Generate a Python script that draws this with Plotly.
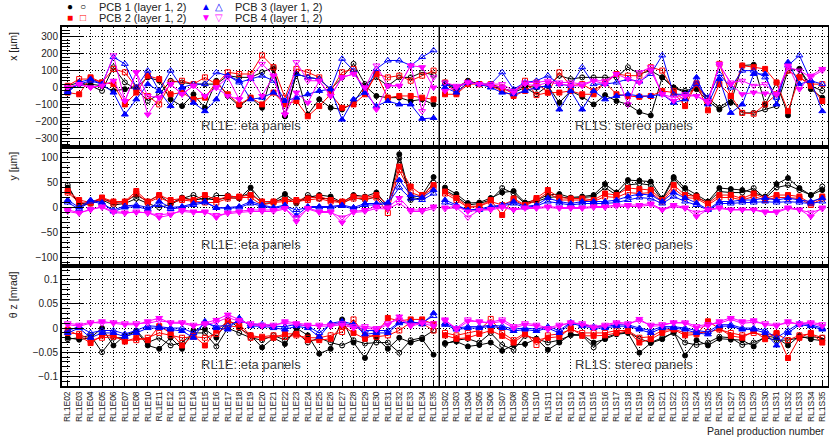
import plotly.graph_objects as go

E_panels = ["RL1E02", "RL1E03", "RL1E04", "RL1E05", "RL1E06", "RL1E07", "RL1E08",
            "RL1E10", "RL1E11", "RL1E12", "RL1E13", "RL1E14", "RL1E15", "RL1E16",
            "RL1E17", "RL1E18", "RL1E19", "RL1E20", "RL1E21", "RL1E22", "RL1E23",
            "RL1E24", "RL1E25", "RL1E26", "RL1E27", "RL1E28", "RL1E29", "RL1E30",
            "RL1E31", "RL1E32", "RL1E33", "RL1E34", "RL1E35"]
S_panels = ["RL1S%02d" % k for k in range(2, 36)]
categories = E_panels + S_panels

# ---------------- x [um] ----------------
dx_E_p1_l1 = [-10, 20, 20, 10, -20, -10, 0, 60, 40, -70, -110, -40, -120, 40, -50, -110, -60, -120, 110, -170, 80, -160, -70, -120, -130, -90, 10, -50, -60, -60, -80, -70, -100]
dx_E_p1_l2 = [10, 30, 10, -20, 120, 30, -10, -80, -40, 40, 30, 20, 20, 20, 70, 60, 60, 90, 120, -170, 80, 60, 50, -10, 60, 140, 20, 60, 10, 60, 60, 90, 75]
dx_E_p2_l1 = [-30, -40, 60, 30, 20, -100, -30, 70, 50, -40, -30, -70, -60, 30, -40, -100, -60, -100, -30, -100, -80, -170, -110, -40, -120, -100, -40, 80, -60, -50, -50, -60, -70]
dx_E_p2_l2 = [10, 50, 50, 30, 110, 90, 0, -50, -100, 30, 40, 20, 60, 20, 90, 80, 80, 190, 120, -60, 110, 90, 60, -20, 90, 110, -30, 80, 60, 70, 40, 70, 100]
dx_E_p3_l1 = [-30, 30, 50, 20, -30, -160, -70, 20, -20, -110, 0, -90, -140, -70, 70, 40, -70, -60, -30, -80, -60, -40, -20, -10, -190, -70, -30, -110, -80, -100, -100, -185, -180]
dx_E_p3_l2 = [-20, 20, 40, 20, 180, 140, 0, 100, -20, 100, 0, 20, 20, 90, 70, 30, 50, 70, 40, -80, 80, 60, 50, -10, 170, 100, -30, 110, 160, 160, 130, 180, 220]
dx_E_p4_l1 = [0, 20, 0, 10, 40, -80, 90, -160, -60, 20, -40, 10, -50, 0, -50, -70, 60, -50, 70, -160, -30, -90, 40, -50, 60, 80, 0, -130, 10, 10, 130, 120, 0]
dx_E_p4_l2 = [0, 20, 0, 10, 190, -80, 90, -50, -60, 20, -40, 10, -50, 0, 60, -70, 60, 140, 70, -160, 150, 40, 40, -50, 60, 80, 0, 130, 10, 10, 130, -140, 60]

dx_S_p1_l1 = [20, -10, 40, 20, 10, -10, -20, 10, 0, 10, -90, -20, -55, -100, -45, -80, -100, -145, -165, 60, 0, -30, -10, -80, -130, -90, 130, 135, -100, 30, -165, 110, -10, -60]
dx_S_p1_l2 = [30, 0, 40, 20, 10, 0, -30, 0, -40, 10, 70, 50, 60, 60, 60, 60, 120, 80, 100, 60, 0, -20, 0, -60, -120, -70, -150, -150, -130, -110, 100, 110, 10, -20]
dx_S_p2_l1 = [-40, -40, 20, 20, 10, -20, -50, -20, 30, -30, -30, -20, -40, -40, 30, -40, -50, -55, -50, -20, -30, -110, 25, -135, 20, -50, 130, 120, 110, 30, -140, 60, 10, -80]
dx_S_p2_l2 = [30, -30, 30, 20, 20, 0, -40, 40, -45, -30, 90, 10, 20, -20, 30, 80, 70, 70, 120, 100, -20, -80, 20, -80, 140, -50, -150, -155, -100, -40, 100, 60, 20, 20]
dx_S_p3_l1 = [0, -30, 30, 20, 0, -30, -40, -20, 0, 10, -130, -20, -130, -20, -70, -50, -40, -50, -50, -40, -90, -70, 60, -100, 50, -150, -100, 80, 80, -100, 150, 20, 40, -140]
dx_S_p3_l2 = [20, 0, 30, 20, 20, 90, -10, 30, 40, 70, 20, 10, 120, 20, 20, 30, 50, 35, 80, 190, -40, -40, 20, -60, 80, 0, 100, 100, 60, -60, 130, 190, 40, 20]
dx_S_p4_l1 = [-20, 0, 30, 20, 10, 0, -30, 20, 10, 30, 20, 10, 10, 40, 20, 80, 50, 30, 100, -40, -80, -50, -50, -90, 140, 20, -40, -30, -35, -40, 130, -10, 70, 110]
dx_S_p4_l2 = [30, 10, 30, 20, 20, 20, -20, 30, 30, 40, 30, 30, 20, 40, 40, 80, -100, 90, 120, -40, -60, -40, -50, -80, 130, 30, 40, 10, 20, -40, 120, 100, 60, 100]

# ---------------- y [um] ----------------
dy_E_p1_l1 = [40, 7, 10, 18, 10, 12, 25, 12, 25, 8, 20, 15, 18, 15, 20, 18, 40, 12, 12, 27, 10, 20, 25, 22, 10, 25, 22, 30, 2, 107, 19, 25, 61]
dy_E_p1_l2 = [45, 3, 8, 15, 5, 8, 18, 8, 0, 6, 18, 25, 14, 24, 24, 20, 30, 8, 10, 20, 8, 25, 18, 18, 8, 20, 15, 22, 0, 99, 15, 20, 50]
dy_E_p2_l1 = [33, 15, 10, 20, 12, 12, 33, 12, 25, 15, 18, 15, 25, 15, 22, 22, 25, 12, 12, 15, 15, 18, 22, 15, 12, 22, 20, 25, 5, 82, 42, 25, 45]
dy_E_p2_l2 = [30, 10, 8, 18, 8, 10, 28, 10, 20, 10, 15, 12, 10, 10, 18, 20, 20, 5, 10, 12, 12, 15, 18, 12, 10, 18, 18, 20, -11, 75, 30, 22, 40]
dy_E_p3_l1 = [15, 0, 15, 10, -8, 0, 2, -4, 12, 0, 2, 8, 12, -1, 0, 2, 12, 5, 0, 5, -16, 2, 2, 2, 5, 0, 8, 8, 10, 55, 25, 20, 35]
dy_E_p3_l2 = [10, -3, 12, 8, -5, 3, 5, 0, 5, -3, 0, 5, 10, 0, -2, 0, 8, 3, -2, 3, -5, 0, 0, 0, 3, -3, 5, 5, 8, 40, 18, 15, 28]
dy_E_p4_l1 = [-5, -10, -5, 2, -8, -10, -10, -10, -20, -15, -5, -8, -8, -20, -10, -8, -5, -5, -5, -1, -28, -1, -8, -8, -30, -8, -5, 2, 0, 19, -5, -5, 2]
dy_E_p4_l2 = [-8, -12, -3, 0, -10, -12, -8, -12, -15, -12, -8, -10, -10, -15, -12, -10, -8, -8, -8, -3, -20, -3, -10, -10, -20, -10, -8, -2, -3, 9, -8, -8, -2]

dy_S_p1_l1 = [40, 27, 9, 10, 19, 30, 33, 10, 15, 25, 27, 20, 22, 25, 47, 30, 55, 54, 52, 18, 61, 39, 25, 12, 39, 37, 35, 30, 22, 47, 59, 39, 25, 35]
dy_S_p1_l2 = [35, 22, 5, 8, 15, 39, 28, 8, 12, 20, 22, 18, 20, 22, 40, 25, 45, 48, 45, 15, 58, 32, 20, 10, 32, 30, 30, 39, 18, 40, 45, 35, 25, 42]
dy_S_p2_l1 = [32, 19, 2, 3, 15, -15, 18, 5, 19, 35, 20, 18, 18, 15, 28, 25, 39, 37, 35, 15, 45, 25, 22, 8, 25, 25, 18, 28, 18, 25, 25, 22, 8, 22]
dy_S_p2_l2 = [28, 15, 0, 2, 12, 5, 15, 3, 15, 30, 15, 15, 15, 12, 22, 20, 30, 28, 30, 12, 38, 20, 18, 5, 20, 20, 15, 22, 15, 20, 20, 18, 5, 18]
dy_S_p3_l1 = [15, 5, -5, -3, 2, 5, 12, 2, 5, 19, 12, 8, 12, 12, 12, 15, 22, 27, 25, 12, 30, 19, 9, -4, 12, 12, 15, 15, 19, 15, 19, 15, 12, 19]
dy_S_p3_l2 = [10, 2, -5, -5, 0, 3, 8, 0, 3, 12, 8, 5, 8, 8, 8, 10, 15, 20, 18, 8, 22, 12, 5, -5, 8, 8, 10, 10, 12, 10, 12, 10, 8, 12]
dy_S_p4_l1 = [0, 2, -8, -5, -3, 2, -4, 0, 0, 2, 0, 0, 0, 2, 2, 5, 5, 5, 8, -4, 5, 0, -18, -4, 0, -4, -4, -4, -8, -8, 0, -4, -18, 0]
dy_S_p4_l2 = [-3, 0, -20, -5, -5, 0, -5, -2, -2, 0, -2, -2, -2, 0, 0, 2, 2, 2, 5, -5, 2, -2, -10, -5, -2, -5, -5, -5, -10, -10, -2, -5, -10, -3]

# ---------------- theta z [mrad] ----------------
tz_E_p1_l1 = [-0.02, -0.024, -0.02, 0.0, -0.036, -0.015, -0.006, -0.036, -0.043, -0.02, -0.043, -0.005, -0.002, -0.02, 0.018, 0.0, -0.015, -0.04, -0.02, -0.033, 0.0, -0.015, -0.053, -0.043, 0.018, -0.03, -0.062, -0.02, -0.043, -0.02, -0.03, -0.023, -0.055]
tz_E_p1_l2 = [-0.023, -0.02, -0.015, -0.05, -0.02, -0.02, -0.005, -0.03, -0.02, -0.036, -0.03, -0.01, -0.01, -0.038, 0.0, -0.01, -0.02, -0.025, -0.015, -0.025, -0.008, -0.03, -0.02, -0.03, -0.036, -0.025, -0.032, -0.03, -0.03, -0.051, -0.025, -0.02, -0.005]
tz_E_p2_l1 = [-0.003, -0.016, -0.031, -0.015, -0.015, -0.028, -0.02, -0.025, 0.004, -0.01, -0.036, -0.015, -0.036, -0.005, 0.014, 0.008, -0.015, -0.02, -0.02, -0.012, -0.012, -0.025, -0.025, -0.022, 0.005, -0.01, -0.022, -0.012, 0.021, 0.015, 0.018, 0.018, 0.008]
tz_E_p2_l2 = [-0.01, -0.012, -0.025, -0.02, -0.018, -0.025, -0.025, -0.02, -0.01, -0.015, -0.02, -0.018, -0.02, -0.012, 0.005, 0.002, -0.02, -0.018, -0.015, -0.018, -0.015, -0.02, -0.02, -0.015, -0.008, 0.018, -0.015, -0.018, -0.015, -0.005, 0.012, 0.01, -0.005]
tz_E_p3_l1 = [-0.01, 0.0, -0.02, -0.01, -0.01, -0.018, -0.01, 0.0, 0.0, -0.003, -0.006, -0.02, 0.014, 0.0, -0.003, 0.021, 0.004, 0.004, 0.0, -0.003, 0.004, 0.0, -0.018, 0.01, 0.014, 0.008, -0.013, -0.01, -0.01, 0.01, 0.014, 0.008, 0.031]
tz_E_p3_l2 = [-0.005, 0.003, -0.01, -0.005, -0.005, -0.012, -0.005, 0.005, 0.003, 0.0, 0.0, -0.01, 0.01, 0.004, 0.005, 0.015, 0.008, 0.008, 0.004, 0.003, 0.008, 0.004, -0.01, 0.008, 0.01, 0.006, -0.005, -0.005, -0.005, 0.012, 0.01, 0.012, 0.025]
tz_E_p4_l1 = [0.007, 0.004, 0.01, 0.014, 0.01, 0.007, 0.007, 0.014, 0.021, 0.01, 0.01, 0.004, 0.01, 0.017, 0.028, 0.017, 0.007, 0.004, 0.004, 0.014, 0.01, 0.007, 0.004, 0.004, 0.007, 0.0, 0.0, -0.003, 0.007, 0.024, 0.004, 0.01, 0.004]
tz_E_p4_l2 = [0.01, 0.007, 0.012, 0.01, 0.012, 0.01, 0.01, 0.01, 0.015, 0.012, 0.012, 0.007, 0.007, 0.012, 0.022, 0.014, 0.01, 0.007, 0.007, 0.01, 0.007, 0.004, 0.007, 0.007, 0.01, 0.004, 0.004, 0.0, 0.01, 0.018, 0.007, 0.012, 0.01]

tz_S_p1_l1 = [-0.031, -0.028, -0.038, -0.035, -0.03, -0.047, -0.035, -0.033, -0.022, -0.045, -0.03, -0.013, -0.014, -0.03, -0.023, -0.013, -0.01, -0.051, -0.031, -0.023, -0.008, -0.057, -0.025, -0.036, -0.022, -0.024, -0.025, -0.038, -0.016, -0.02, -0.036, -0.016, -0.023, -0.026]
tz_S_p1_l2 = [-0.033, -0.025, -0.022, -0.03, -0.01, -0.035, -0.045, -0.016, -0.022, -0.03, -0.025, -0.015, -0.015, -0.04, -0.02, -0.012, -0.008, -0.022, -0.03, -0.02, -0.01, -0.03, -0.035, -0.03, -0.018, -0.02, -0.035, -0.03, -0.02, -0.025, -0.025, -0.02, -0.018, -0.02]
tz_S_p2_l1 = [-0.015, -0.022, -0.02, -0.012, -0.005, -0.016, -0.03, -0.013, -0.025, -0.02, -0.018, 0.0, -0.016, -0.016, -0.015, -0.01, -0.006, -0.03, -0.023, -0.01, -0.003, -0.015, -0.013, 0.014, -0.001, -0.016, -0.02, -0.006, -0.023, -0.01, -0.062, -0.02, -0.01, -0.03]
tz_S_p2_l2 = [-0.01, -0.015, -0.01, -0.005, 0.019, -0.01, -0.025, -0.01, -0.035, -0.015, -0.012, -0.003, -0.01, -0.01, -0.01, -0.005, -0.005, -0.02, -0.018, -0.005, -0.002, -0.01, -0.01, -0.008, -0.003, -0.01, -0.015, -0.01, -0.015, -0.012, -0.025, -0.015, -0.012, -0.02]
tz_S_p3_l1 = [0.007, -0.003, 0.0, 0.0, 0.004, 0.0, -0.006, -0.003, -0.006, 0.0, -0.01, 0.01, 0.004, 0.0, 0.0, 0.004, 0.004, -0.003, -0.01, 0.0, 0.0, -0.003, -0.01, -0.013, 0.004, 0.004, -0.003, -0.003, -0.01, -0.036, -0.01, 0.007, 0.004, -0.003]
tz_S_p3_l2 = [0.01, 0.0, 0.003, 0.003, 0.006, 0.004, -0.002, 0.0, -0.002, 0.003, -0.005, 0.012, 0.007, 0.003, 0.003, 0.007, 0.007, 0.0, -0.005, 0.003, 0.003, 0.0, -0.005, -0.008, 0.007, 0.007, 0.0, 0.0, -0.005, -0.02, -0.005, 0.01, 0.007, 0.0]
tz_S_p4_l1 = [0.018, -0.003, 0.014, 0.014, 0.01, 0.014, 0.0, 0.007, 0.004, -0.003, 0.004, 0.012, 0.007, 0.0, 0.004, 0.01, 0.007, 0.019, 0.004, 0.005, 0.012, 0.01, 0.0, 0.005, 0.014, 0.021, 0.014, 0.016, 0.007, 0.004, 0.014, 0.007, 0.01, 0.004]
tz_S_p4_l2 = [0.015, 0.0, 0.018, 0.012, 0.012, 0.018, 0.004, 0.01, 0.007, 0.0, 0.007, 0.01, 0.01, 0.003, 0.007, 0.012, 0.01, 0.015, 0.007, 0.008, 0.01, 0.012, 0.004, 0.008, 0.01, 0.018, 0.01, 0.012, 0.01, 0.007, 0.01, 0.01, 0.012, 0.008]

pcb_colors = ["#000000", "#ff0000", "#0000ff", "#ff00ff"]
sym_filled = ["circle", "square", "triangle-up", "triangle-down"]
sym_open = ["circle-open", "square-open", "triangle-up-open", "triangle-down-open"]

panels = [
    ("x", "y", {"E": [dx_E_p1_l1, dx_E_p1_l2, dx_E_p2_l1, dx_E_p2_l2, dx_E_p3_l1, dx_E_p3_l2, dx_E_p4_l1, dx_E_p4_l2],
                "S": [dx_S_p1_l1, dx_S_p1_l2, dx_S_p2_l1, dx_S_p2_l2, dx_S_p3_l1, dx_S_p3_l2, dx_S_p4_l1, dx_S_p4_l2]}),
    ("x2", "y2", {"E": [dy_E_p1_l1, dy_E_p1_l2, dy_E_p2_l1, dy_E_p2_l2, dy_E_p3_l1, dy_E_p3_l2, dy_E_p4_l1, dy_E_p4_l2],
                  "S": [dy_S_p1_l1, dy_S_p1_l2, dy_S_p2_l1, dy_S_p2_l2, dy_S_p3_l1, dy_S_p3_l2, dy_S_p4_l1, dy_S_p4_l2]}),
    ("x3", "y3", {"E": [tz_E_p1_l1, tz_E_p1_l2, tz_E_p2_l1, tz_E_p2_l2, tz_E_p3_l1, tz_E_p3_l2, tz_E_p4_l1, tz_E_p4_l2],
                  "S": [tz_S_p1_l1, tz_S_p1_l2, tz_S_p2_l1, tz_S_p2_l2, tz_S_p3_l1, tz_S_p3_l2, tz_S_p4_l1, tz_S_p4_l2]}),
]

fig = go.Figure()
for xa, ya, groups in panels:
    for grp, cats in (("E", E_panels), ("S", S_panels)):
        series = groups[grp]
        for k, vals in enumerate(series):
            pcb = k // 2
            layer = k % 2
            col = pcb_colors[pcb]
            sym = sym_filled[pcb] if layer == 0 else sym_open[pcb]
            size = 5 if pcb in (0, 1) else 6
            fig.add_trace(go.Scatter(
                x=cats, y=vals, xaxis=xa, yaxis=ya, mode="lines+markers",
                line=dict(color=col, width=1),
                marker=dict(symbol=sym, size=size, color=col, line=dict(color=col, width=1)),
                showlegend=False, hoverinfo="skip"))

FONT = "Liberation Sans, Arial, Helvetica, sans-serif"
TXT = "#222222"
grid = dict(showgrid=True, gridcolor="#000000", gridwidth=1, griddash="1px,2px")
frame = dict(showline=True, linecolor="#000000", linewidth=2, mirror=True)

domains = [[2 / 3, 1.0], [1 / 3, 2 / 3], [0.0, 1 / 3]]
yranges = [[-350, 358], [-118, 122], [-0.12, 0.128]]
ydticks = [100, 50, 0.05]
yminor = [20, 10, 0.01]

W, H, L, R, T, B = 829, 437, 62, 1, 27, 51
layout = dict(
    width=W, height=H, margin=dict(l=L, r=R, t=T, b=B, autoexpand=False),
    paper_bgcolor="white", plot_bgcolor="white",
    font=dict(family=FONT, size=11, color=TXT),
    showlegend=False,
)
for i in range(3):
    xn = "xaxis" if i == 0 else "xaxis%d" % (i + 1)
    yn = "yaxis" if i == 0 else "yaxis%d" % (i + 1)
    yid = "y" if i == 0 else "y%d" % (i + 1)
    xid = "x" if i == 0 else "x%d" % (i + 1)
    layout[xn] = dict(domain=[0, 1], anchor=yid, type="category",
                      categoryorder="array", categoryarray=categories,
                      range=[-0.5, len(categories) - 0.5],
                      tickmode="array", tickvals=categories, ticktext=categories,
                      ticks="inside", ticklen=5, tickcolor="#000000",
                      showticklabels=(i == 2), tickangle=-90, automargin=False,
                      tickfont=dict(size=8.5, color=TXT),
                      zeroline=False, **grid, **frame)
    layout[yn] = dict(domain=domains[i], anchor=xid, range=yranges[i], automargin=False,
                      tick0=0, dtick=ydticks[i], ticks="inside", ticklen=22,
                      tickcolor="#000000", tickfont=dict(size=10, color=TXT),
                      minor=dict(dtick=yminor[i], ticks="inside", ticklen=8,
                                 tickcolor="#000000", showgrid=False),
                      zeroline=False, **grid, **frame)
fig.update_layout(**layout)

# separator between eta and stereo panels
for i in range(3):
    xid = "x" if i == 0 else "x%d" % (i + 1)
    yid = "y" if i == 0 else "y%d" % (i + 1)
    fig.add_shape(type="line", xref=xid, yref=yid + " domain",
                  x0=len(E_panels) - 0.5, x1=len(E_panels) - 0.5, y0=0, y1=1,
                  line=dict(color="#000000", width=1.5))
    fig.add_annotation(text="RL1E: eta panels", xref=xid, yref=yid + " domain",
                       x=(len(E_panels) - 1) / 2, y=0.1, showarrow=False,
                       font=dict(size=13, color="#444444"))
    fig.add_annotation(text="RL1S: stereo panels", xref=xid, yref=yid + " domain",
                       x=len(E_panels) + (len(S_panels) - 1) / 2, y=0.1, showarrow=False,
                       font=dict(size=13, color="#444444"))

ytitles = ["x [µm]", "y [µm]", "θ z [mrad]"]
for i, t in enumerate(ytitles):
    yid = "y" if i == 0 else "y%d" % (i + 1)
    fig.add_annotation(text=t, xref="paper", yref=yid + " domain", x=-0.064, y=0.98,
                       xanchor="center", yanchor="top", textangle=-90, showarrow=False,
                       font=dict(size=10.5, color=TXT))

ph = H - T - B
pw = W - L - R
def px(xp):
    return (xp - L) / pw
def py(yp):
    return (H - B - yp) / ph

fig.add_annotation(text="Panel production number", xref="paper", yref="paper",
                   x=px(827), y=py(431), xanchor="right", yanchor="middle", showarrow=False,
                   font=dict(size=10.5, color=TXT))

# legend (text symbols)
leg = [
    ("●", "○", "#000000", "PCB 1 (layer 1, 2)", 70, 7),
    ("■", "□", "#ff0000", "PCB 2 (layer 1, 2)", 70, 18),
    ("▲", "△", "#0000ff", "PCB 3 (layer 1, 2)", 206, 7),
    ("▼", "▽", "#ff00ff", "PCB 4 (layer 1, 2)", 206, 18),
]
for s1, s2, col, lab, x0, y0 in leg:
    fig.add_annotation(text=s1, xref="paper", yref="paper", x=px(x0), y=py(y0),
                       xanchor="center", yanchor="middle", showarrow=False,
                       font=dict(size=10, color=col))
    fig.add_annotation(text=s2, xref="paper", yref="paper", x=px(x0 + 13), y=py(y0),
                       xanchor="center", yanchor="middle", showarrow=False,
                       font=dict(size=10, color=col))
    fig.add_annotation(text=lab, xref="paper", yref="paper", x=px(x0 + 27), y=py(y0),
                       xanchor="left", yanchor="middle", showarrow=False,
                       font=dict(size=11, color=TXT))

fig.write_html("out.html", config={"displayModeBar": False},
               post_script="document.body.style.margin='0';")
